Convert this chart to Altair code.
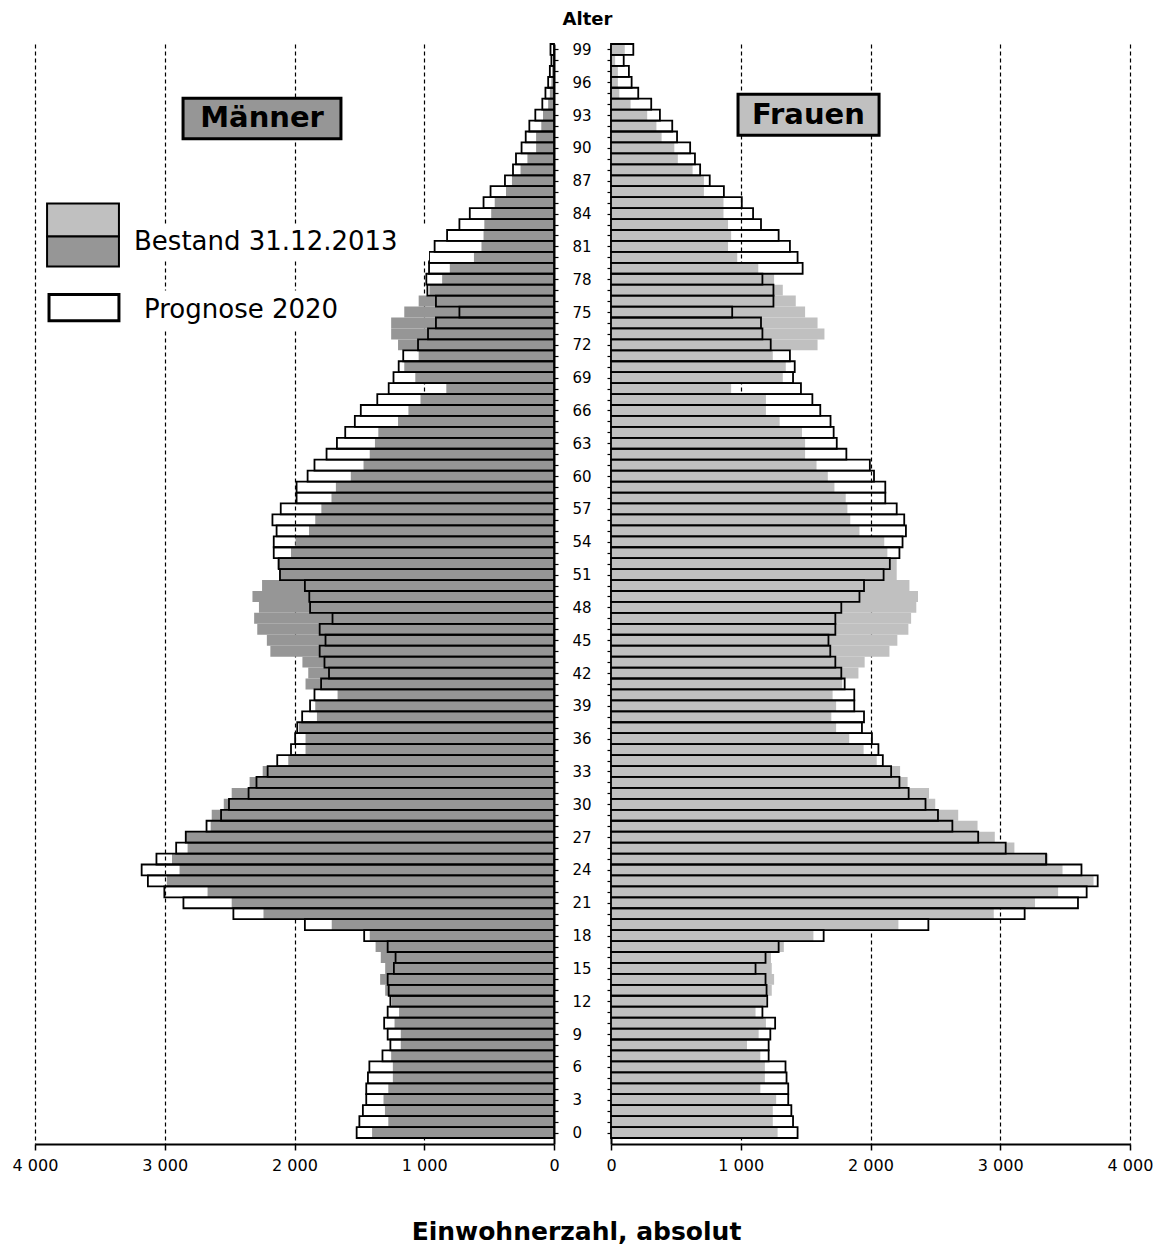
import altair as alt
import pandas as pd

ages = list(range(100))
men_2013 = [1402, 1277, 1303, 1314, 1277, 1242, 1242, 1255, 1181, 1181,
            1229, 1194, 1250, 1301, 1340, 1301, 1335, 1375, 1420, 1713,
            2239, 2484, 2670, 2984, 2886, 2944, 2824, 2838, 2646, 2638,
            2545, 2484, 2346, 2245, 2048, 1915, 1915, 1965, 1827, 1840,
            1668, 1915, 1894, 1939, 2186, 2213, 2287, 2311, 2274, 2324,
            2250, 2115, 2130, 2027, 1992, 1888, 1840, 1793, 1715, 1681,
            1566, 1468, 1420, 1380, 1354, 1202, 1122, 1029, 830, 1069,
            1154, 1043, 1202, 1255, 1255, 1154, 1043, 960, 862, 803,
            617, 559, 543, 537, 484, 457, 370, 324, 258, 205,
            138, 138, 98, 85, 45, 32, 20, 15, 8, 8]
men_2020 = [1521, 1500, 1473, 1447, 1447, 1434, 1423, 1322, 1261, 1282,
            1309, 1282, 1261, 1274, 1282, 1234, 1221, 1282, 1463, 1920,
            2471, 2856, 3003, 3130, 3178, 3064, 2912, 2838, 2678, 2566,
            2505, 2354, 2293, 2207, 2133, 2027, 1995, 1979, 1941, 1880,
            1846, 1795, 1734, 1769, 1806, 1761, 1806, 1707, 1880, 1886,
            1920, 2112, 2122, 2160, 2160, 2138, 2170, 2106, 1984, 1984,
            1899, 1846, 1753, 1673, 1609, 1535, 1489, 1362, 1274, 1237,
            1197, 1162, 1048, 971, 910, 729, 910, 976, 984, 963,
            963, 920, 824, 729, 649, 543, 489, 378, 316, 293,
            250, 218, 190, 144, 90, 66, 45, 32, 20, 27]
women_2013 = [1284, 1247, 1247, 1273, 1151, 1186, 1186, 1151, 1048, 1138,
              1194, 1114, 1194, 1239, 1257, 1239, 1233, 1332, 1560, 2215,
              2950, 3268, 3446, 3719, 3480, 3369, 3109, 2958, 2825, 2676,
              2499, 2451, 2286, 2228, 2048, 1947, 1836, 1735, 1698, 1735,
              1708, 1782, 1907, 1955, 2146, 2207, 2292, 2313, 2353, 2366,
              2300, 2202, 2202, 2130, 2106, 1915, 1844, 1822, 1809, 1722,
              1671, 1584, 1496, 1496, 1472, 1300, 1194, 1194, 926, 1324,
              1347, 1247, 1592, 1645, 1592, 1496, 1424, 1324, 1257, 1135,
              973, 902, 926, 902, 867, 867, 716, 716, 629, 515,
              488, 390, 350, 279, 151, 64, 53, 53, 32, 106]
women_2020 = [1438, 1403, 1390, 1366, 1366, 1353, 1345, 1215, 1215, 1228,
              1265, 1167, 1204, 1199, 1191, 1114, 1191, 1292, 1639, 2446,
              3188, 3599, 3666, 3751, 3626, 3353, 3042, 2830, 2631, 2520,
              2424, 2294, 2223, 2159, 2095, 2061, 2011, 1934, 1950, 1875,
              1875, 1801, 1775, 1729, 1690, 1676, 1729, 1729, 1775, 1915,
              1950, 2101, 2149, 2223, 2247, 2273, 2260, 2202, 2114, 2114,
              2027, 1995, 1814, 1740, 1716, 1692, 1613, 1552, 1464, 1403,
              1416, 1379, 1231, 1167, 1156, 934, 1252, 1252, 1167, 1477,
              1438, 1379, 1292, 1156, 1095, 1008, 870, 761, 687, 647,
              610, 509, 472, 377, 310, 210, 159, 138, 98, 172]
x_ticks = [0, 1000, 2000, 3000, 4000]
title_top = "Alter"
title_bottom = "Einwohnerzahl, absolut"
legend_labels = ["Bestand 31.12.2013", "Prognose 2020"]

MEN_GRAY = "#969696"
WOMEN_GRAY = "#c0c0c0"
FONT = "DejaVu Sans"
W, H = 519, 1100

df = pd.DataFrame({"age": ages, "m13": men_2013, "m20": men_2020,
                   "f13": women_2013, "f20": women_2020})

yscale = alt.Scale(domain=[-1.05, 99.5], nice=False, zero=False)
xl = alt.Scale(domain=[0, 4000], reverse=True, nice=False)
xr = alt.Scale(domain=[0, 4000], nice=False)

label_expr = "replace(format(datum.value, ','), ',', ' ')"
grid_color = {"condition": {"test": "datum.value == 0", "value": "transparent"},
              "value": "black"}


def x_axis(**kw):
    return alt.Axis(values=x_ticks, labelExpr=label_expr, labelFontSize=16,
                    labelColor="black", labelPadding=7, labelFlush=False,
                    tickSize=6, tickColor="black", tickWidth=1.5,
                    domainColor="black", domainWidth=2, grid=True,
                    gridDash=[4, 3], gridWidth=1.2, gridColor=grid_color,
                    labelFont=FONT, **kw)


x_axis_left = x_axis(title="")
x_axis_right = x_axis(title=title_bottom, titleX=-35, titleY=87,
                      titleAlign="center", titleBaseline="middle",
                      titleFontSize=25, titleFontWeight="bold",
                      titleFont=FONT, titleColor="black")
y_axis_left = alt.Axis(orient="right", values=ages, labels=False,
                       ticks=True, tickSize=4, tickColor="black",
                       tickWidth=1.2, domain=True, domainColor="black",
                       domainWidth=2, grid=False, title="")
y_axis_right = alt.Axis(orient="left", values=ages,
                        labelExpr="datum.value % 3 == 0 ? '' + datum.value : ''",
                        labelAlign="left", labelBaseline="middle",
                        labelPadding=35, labelFontSize=15,
                        labelColor="black", labelOverlap=False,
                        labelFont=FONT, labelFlush=False,
                        tickSize=4, tickColor="black", tickWidth=1.2,
                        domain=True, domainColor="black", domainWidth=2,
                        grid=False, title=title_top, titleAngle=0,
                        titleX=-24, titleY=-25, titleAlign="center",
                        titleBaseline="middle", titleFontSize=18,
                        titleFontWeight="bold", titleFont=FONT,
                        titleColor="black")


def enc(xf, yf, xs, xa, ya):
    return dict(x=alt.X(xf, scale=xs, axis=xa),
                y=alt.Y(yf, scale=yscale, axis=ya))


base = alt.Chart(df).transform_calculate(
    lo="datum.age - 0.5", hi="datum.age + 0.5", zero="0")

# ---------- left panel (men) ----------
L = (xl, x_axis_left, y_axis_left)
men_gray = base.mark_rect(color=MEN_GRAY).encode(
    x2="zero:Q", y2="hi:Q", **enc("m13:Q", "lo:Q", *L))
men_out = base.mark_rect(fillOpacity=0, stroke="black", strokeWidth=1.8).encode(
    x2="zero:Q", y2="hi:Q", **enc("m20:Q", "lo:Q", *L))


def rect_layer(d, P, **mk):
    return alt.Chart(pd.DataFrame(d)).mark_rect(**mk).encode(
        x2="x2:Q", y2="y2:Q", **enc("x1:Q", "y1:Q", *P))


def text_layer(d, P, **mk):
    return alt.Chart(pd.DataFrame(d)).mark_text(font=FONT, **mk).encode(
        text="t:N", **enc("x:Q", "y:Q", *P))


legend_bg = rect_layer({"x1": [3275, 3198], "x2": [963, 1657],
                        "y1": [82.9, 76.96], "y2": [79.7, 73.4]}, L,
                       color="white")
sw_top = rect_layer({"x1": [3907], "x2": [3353], "y1": [84.92], "y2": [81.9]}, L,
                    fill=WOMEN_GRAY, stroke="black", strokeWidth=2)
sw_bot = rect_layer({"x1": [3907], "x2": [3353], "y1": [81.9], "y2": [79.16]}, L,
                    fill=MEN_GRAY, stroke="black", strokeWidth=2)
sw_prog = rect_layer({"x1": [3892], "x2": [3353], "y1": [76.6], "y2": [74.2]}, L,
                     fill="white", stroke="black", strokeWidth=3)
leg_text = text_layer({"x": [3237, 3160], "y": [81.36, 75.14],
                       "t": legend_labels}, L,
                      align="left", baseline="middle", fontSize=26, color="black")
men_box = rect_layer({"x1": [2859], "x2": [1642], "y1": [94.55], "y2": [90.85]}, L,
                     fill=MEN_GRAY, stroke="black", strokeWidth=3)
men_text = text_layer({"x": [2250], "y": [92.7], "t": ["Männer"]}, L,
                      align="center", baseline="middle", fontSize=29,
                      fontWeight="bold", color="black")

no_border = alt.ViewBackground(stroke="transparent", strokeWidth=0)

left = alt.layer(men_gray, men_out, legend_bg, sw_top, sw_bot, sw_prog,
                 leg_text, men_box, men_text).properties(
    width=W, height=H, view=no_border)

# ---------- right panel (women) ----------
R = (xr, x_axis_right, y_axis_right)
women_gray = base.mark_rect(color=WOMEN_GRAY).encode(
    x2="zero:Q", y2="hi:Q", **enc("f13:Q", "lo:Q", *R))
women_out = base.mark_rect(fillOpacity=0, stroke="black", strokeWidth=1.8).encode(
    x2="zero:Q", y2="hi:Q", **enc("f20:Q", "lo:Q", *R))
women_box = rect_layer({"x1": [979], "x2": [2066], "y1": [94.9], "y2": [91.15]}, R,
                       fill=WOMEN_GRAY, stroke="black", strokeWidth=3)
women_text = text_layer({"x": [1522], "y": [93.0], "t": ["Frauen"]}, R,
                        align="center", baseline="middle", fontSize=29,
                        fontWeight="bold", color="black")

right = alt.layer(women_gray, women_out, women_box, women_text).properties(
    width=W, height=H, view=no_border)

chart = alt.hconcat(left, right, spacing=57, bounds="flush").properties(
    padding={"left": 4, "top": 2, "right": 5, "bottom": 5}
).configure_view(strokeWidth=0, stroke="transparent").configure(font=FONT)

chart.save("out.html", embed_options={"renderer": "svg", "actions": False})
